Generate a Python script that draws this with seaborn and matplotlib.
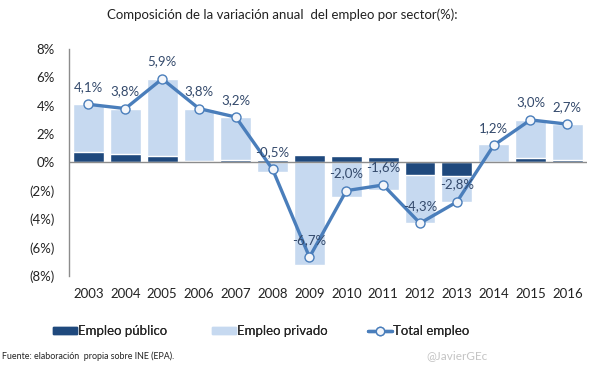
import numpy as np
import pandas as pd
import matplotlib
matplotlib.use("Agg")
import matplotlib.pyplot as plt
import seaborn as sns
from matplotlib.patches import Patch
from matplotlib.lines import Line2D

years = ['2003', '2004', '2005', '2006', '2007', '2008', '2009',
         '2010', '2011', '2012', '2013', '2014', '2015', '2016']
publico = [0.75, 0.60, 0.45, 0.10, 0.17, 0.17, 0.52, 0.44, 0.38, -0.90, -0.95, 0.02, 0.30, 0.15]
privado = [3.35, 3.20, 5.45, 3.70, 3.03, -0.67, -7.22, -2.44, -1.98, -3.40, -1.85, 1.25, 2.70, 2.55]
total = [4.1, 3.8, 5.9, 3.8, 3.2, -0.5, -6.7, -2.0, -1.6, -4.3, -2.8, 1.2, 3.0, 2.7]
y_ticks = [8, 6, 4, 2, 0, -2, -4, -6, -8]
y_labels = ['8%', '6%', '4%', '2%', '0%', '(2%)', '(4%)', '(6%)', '(8%)']
legend_labels = ['Empleo público', 'Empleo privado', 'Total empleo']

sns.set_style("white")
plt.rcParams['font.family'] = ['Lato', 'DejaVu Sans']

dark = '#1f497d'
light = '#c6d9f0'
line_c = '#4a7ebb'
text_c = '#33496b'

df = pd.DataFrame({'year': years, 'publico': publico, 'privado': privado, 'total': total})
# light bar reaches the stacked end when both parts share sign
df['light_end'] = [pr + pu if np.sign(pr) == np.sign(pu) else pr
                   for pu, pr in zip(df['publico'], df['privado'])]

fig = plt.figure(figsize=(6.05, 3.78), dpi=100)
ax = fig.add_axes([0.114, 0.271, 0.856, 0.599])

sns.barplot(data=df, x='year', y='light_end', color=light, width=0.84,
            saturation=1, ax=ax)
sns.barplot(data=df, x='year', y='publico', color=dark, width=0.84,
            saturation=1, ax=ax)
ax.plot(range(len(years)), df['total'], color=line_c, lw=2.4, marker='o',
        markersize=6.5, markerfacecolor='#f4f6fa', markeredgecolor=line_c,
        markeredgewidth=1.0, zorder=5)

for i, v in enumerate(total):
    ax.annotate(f"{v:.1f}%".replace('.', ','), (i, v), xytext=(0, 12.5),
                textcoords='offset points', ha='center', va='center',
                fontsize=9.5, color=text_c, zorder=6)

ax.axhline(0, color='#8c8c8c', lw=1.0, zorder=4)
ax.set_ylim(-8, 8)
ax.set_xlim(-0.53, 13.53)
ax.set_yticks(y_ticks)
ax.set_yticklabels(y_labels, fontsize=9.5, color='#222222')
ax.tick_params(axis='x', labelsize=9.5, colors='#222222', length=0, pad=9)
ax.tick_params(axis='y', length=0, pad=10)
ax.set_xlabel('')
ax.set_ylabel('')
for s in ['top', 'right', 'bottom']:
    ax.spines[s].set_visible(False)
ax.spines['left'].set_color('#8c8c8c')
ax.spines['left'].set_linewidth(1.0)

fig.text(0.467, 0.962, 'Composición de la variación anual  del empleo por sector(%):',
         ha='center', va='center', fontsize=9.5, color='#222222')

handles = [Patch(color=dark), Patch(color=light),
           Line2D([0], [0], color=line_c, lw=2.4, marker='o', markersize=6,
                  markerfacecolor='#f4f6fa', markeredgecolor=line_c)]
anchors = [53 / 605, 212 / 605, 368 / 605]
for h, lab, x0 in zip(handles, legend_labels, anchors):
    leg = fig.legend([h], [lab], loc='center left', bbox_to_anchor=(x0, 0.124),
                     frameon=False, fontsize=9.5, handlelength=1.8,
                     handleheight=0.4, handletextpad=0.1, borderpad=0,
                     borderaxespad=0)
    fig.add_artist(leg)

fig.text(0.004, 0.058, 'Fuente: elaboración  propia sobre INE (EPA).',
         ha='left', va='center', fontsize=6.4, color='#222222')
fig.text(0.705, 0.058, '@JavierGEc', ha='left', va='center', fontsize=8.5,
         color='#c4c4c4')

fig.savefig('out.png', dpi=100)
